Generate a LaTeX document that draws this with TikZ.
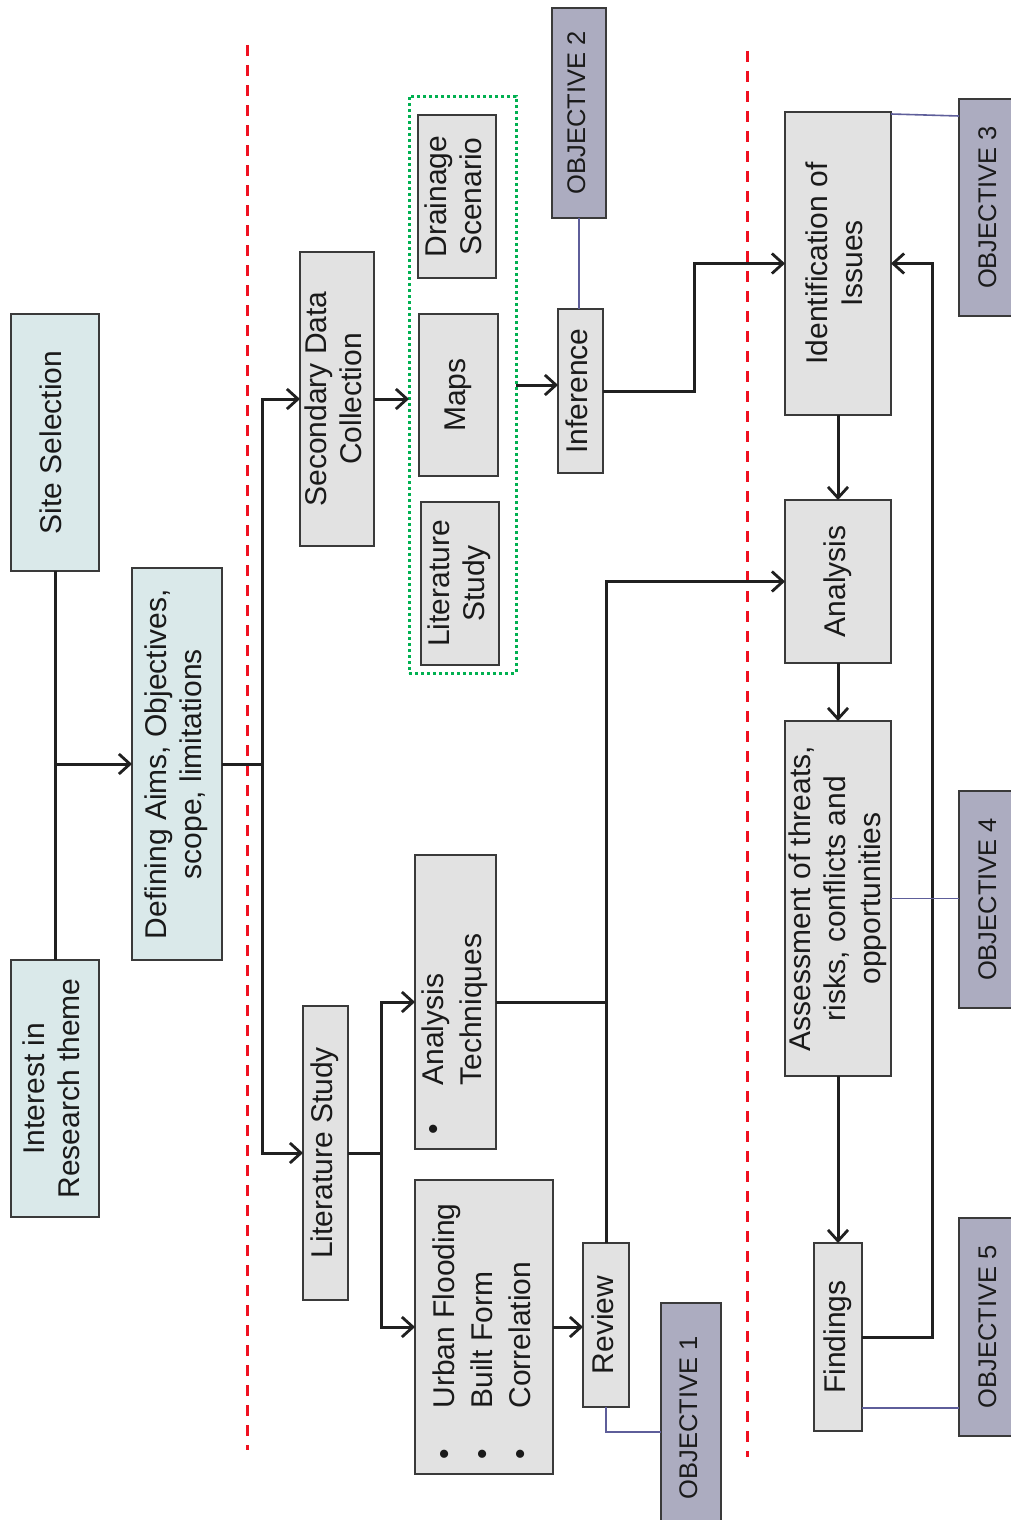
\documentclass[tikz,border=0pt]{standalone}
\usepackage{fontspec}
\setmainfont{Liberation Sans}
\usetikzlibrary{arrows.meta,calc}
\definecolor{cyanbox}{HTML}{DAE9EA}
\definecolor{graybox}{HTML}{E2E2E2}
\definecolor{objbox}{HTML}{ACACC0}
\definecolor{objline}{HTML}{5E5E9A}
\definecolor{lineclr}{HTML}{202020}
\definecolor{bordclr}{HTML}{3A3A3A}
\definecolor{txtclr}{HTML}{1A1A1A}
\definecolor{dotgreen}{HTML}{00B050}
\definecolor{divred}{HTML}{F01020}
\newcommand{\mainfs}{\fontsize{30}{35}\selectfont}
\newcommand{\listfs}{\fontsize{30}{38}\selectfont}
\newcommand{\objfs}{\fontsize{25.5}{30}\selectfont}
\newcommand{\rottext}[1]{\rotatebox{90}{\begin{tabular}{@{}c@{}}#1\end{tabular}}}
\tikzset{
  boxbase/.style={draw=bordclr, line width=1.3pt, inner sep=0pt, outer sep=0pt, text=txtclr, font=\mainfs},
  cyanbx/.style={boxbase, fill=cyanbox},
  graybx/.style={boxbase, fill=graybox},
  objbx/.style={boxbase, fill=objbox, font=\objfs},
  conn/.style={draw=lineclr, line width=3pt},
  arr/.style={conn, -{Straight Barb[length=11pt,width=20pt,line width=2.8pt]}},
  objlink/.style={draw=objline, line width=1.6pt},
  divider/.style={draw=divred, line width=3pt, dash pattern=on 11pt off 9pt},
  grp/.style={draw=dotgreen, line width=3pt, dash pattern=on 3pt off 3pt, inner sep=0pt, outer sep=0pt},
  txt/.style={inner sep=0pt, outer sep=0pt, text=txtclr, font=\listfs},
}
\begin{document}
\begin{tikzpicture}[x=1pt,y=-1pt]
\useasboundingbox (0,0) rectangle (1010,1520);
\fill[white] (0,0) rectangle (1010,1520);

% dividers
\draw[divider] (247,45) -- (247,1450);
\draw[divider] (747,51) -- (747,1457);

% group box
\node[grp, minimum width=107pt, minimum height=577pt] (grpbox) at (462.5,384.5) {};

% boxes
\node[cyanbx, minimum width=88pt, minimum height=257pt] (site) at (55,442.5) {\rottext{Site Selection}};
\node[cyanbx, minimum width=88pt, minimum height=257pt] (interest) at (55,1088.5) {\rottext{Interest in\\Research theme}};
\node[cyanbx, minimum width=90pt, minimum height=392pt] (def) at (177,764) {\rottext{Defining Aims, Objectives,\\scope, limitations}};
\node[graybx, minimum width=74pt, minimum height=294pt] (sdc) at (337,399) {\rottext{Secondary Data\\Collection}};
\node[graybx, minimum width=45pt, minimum height=294pt] (lit) at (325.5,1153) {\rottext{Literature Study}};
\node[graybx, minimum width=78pt, minimum height=163pt] (drain) at (457,196.5) {\rottext{Drainage\\Scenario}};
\node[graybx, minimum width=79pt, minimum height=162pt] (maps) at (458.5,395) {\rottext{Maps}};
\node[graybx, minimum width=78pt, minimum height=163pt] (litst) at (460,583.5) {\rottext{Literature\\Study}};
\node[graybx, minimum width=81pt, minimum height=294pt] (tech) at (455.5,1002) {};
\node[txt, anchor=south] (techtxt) at (455,1134) {\rotatebox{90}{\begin{tabular}{@{}l@{\hspace{38pt}}l@{}}\textbullet & Analysis\\ & Techniques\end{tabular}}};
\node[graybx, minimum width=138pt, minimum height=294pt] (urban) at (484,1327) {};
\node[txt, anchor=south] (urbantxt) at (484.4,1459) {\rotatebox{90}{\begin{tabular}{@{}l@{\hspace{40pt}}l@{}}\textbullet & Urban Flooding\\ \textbullet & Built Form\\ \textbullet & Correlation\end{tabular}}};
\node[graybx, minimum width=46pt, minimum height=164pt] (review) at (606,1325) {\rottext{Review}};
\node[graybx, minimum width=45pt, minimum height=164pt] (infer) at (580.5,391) {\rottext{Inference}};
\node[objbx, minimum width=54pt, minimum height=210pt] (obj2) at (579,113) {\rottext{OBJECTIVE 2}};
\node[objbx, minimum width=60pt, minimum height=230pt] (obj1) at (691,1418) {\rottext{OBJECTIVE 1}};
\node[graybx, minimum width=106pt, minimum height=303pt] (ident) at (838,263.5) {\rottext{Identification of\\Issues}};
\node[graybx, minimum width=106pt, minimum height=163pt] (analysis) at (838,581.5) {\rottext{Analysis}};
\node[graybx, minimum width=106pt, minimum height=355pt] (assess) at (838,898.5) {\rottext{Assessment of threats,\\risks, conflicts and\\opportunities}};
\node[graybx, minimum width=48pt, minimum height=188pt] (findings) at (838,1337) {\rottext{Findings}};
\node[objbx, minimum width=62pt, minimum height=217pt] (obj3) at (990,207.5) {\rottext{OBJECTIVE 3}};
\node[objbx, minimum width=62pt, minimum height=217pt] (obj4) at (990,899.5) {\rottext{OBJECTIVE 4}};
\node[objbx, minimum width=62pt, minimum height=218pt] (obj5) at (990,1327) {\rottext{OBJECTIVE 5}};

% connectors
\coordinate (j1) at (262,764);
\coordinate (j2) at (381,1153);
\draw[conn] (site.south) -- (interest.north);
\draw[arr] (site.south |- def.west) -- (def.west);
\draw[conn] (def.east) -- (j1);
\draw[arr] (j1) |- (sdc.west);
\draw[arr] (j1) |- (lit.west);
\draw[arr] (sdc.east) -- (sdc.east -| grpbox.west);
\draw[arr] ($(grpbox.east |- infer.west)+(0,-6)$) -- ($(infer.west)+(0,-6)$);
\draw[arr] (infer.east) -- ++(91,0) |- (ident.west);
\draw[arr] (ident.south) -- (analysis.north);
\draw[arr] (analysis.south) -- (assess.north);
\draw[arr] (assess.south) -- (findings.north);
\draw[arr] (findings.east) -- ++(70,0) |- (ident.east);
\draw[conn] (lit.east) -- (j2);
\draw[arr] (j2) |- (tech.west);
\draw[arr] (j2) |- (urban.west);
\draw[conn] (tech.east) -- (tech.east -| review.north);
\draw[arr] (review.north) -- (review.north |- analysis.west) -- (analysis.west);
\draw[arr] (urban.east) -- (urban.east -| review.west);

% objective links
\draw[objlink] (obj2.south) -- (obj2.south |- infer.north);
\draw[objlink] ($(ident.north east)+(0,2)$) -- ($(obj3.west |- ident.north east)+(0,4)$);
\draw[objlink] (assess.east) -- (assess.east -| obj4.west);
\draw[objlink] ($(findings.south east)+(0,-23)$) -- ($(obj5.west |- findings.south east)+(0,-23)$);
\draw[objlink] (review.south) |- ($(obj1.west)+(0,14)$);
\end{tikzpicture}
\end{document}
